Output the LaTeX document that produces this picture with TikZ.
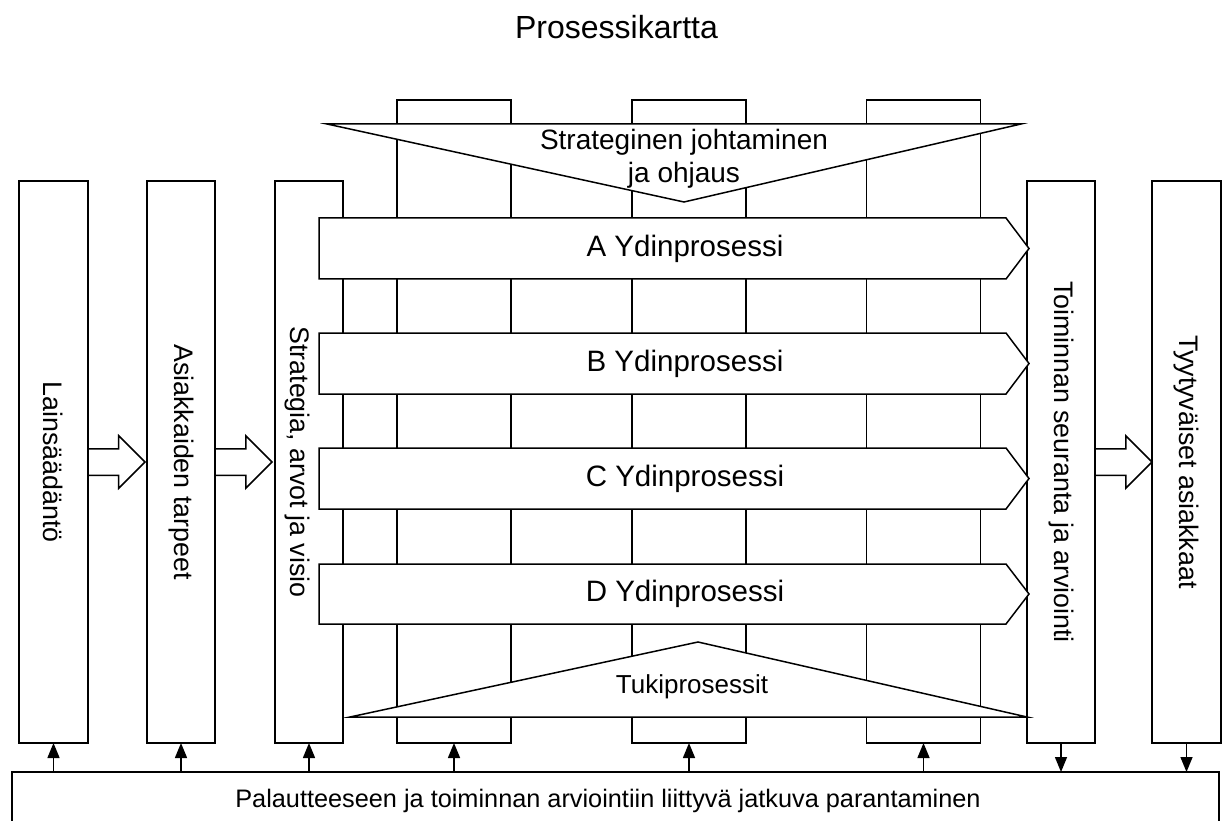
\documentclass[tikz,border=0pt]{standalone}
\usepackage{fontspec}
\setmainfont{Liberation Sans}
\usetikzlibrary{arrows.meta,shapes.arrows}
\tikzset{
  col/.style={draw,fill=white,outer sep=0pt,inner sep=0pt},
  proc/.style={draw,fill=white},
  txt/.style={font=\fontsize{26}{32}\selectfont,inner sep=0pt,align=center},
  ptxt/.style={txt,font=\fontsize{29.5}{34}\selectfont},
  vtxt/.style={txt,font=\fontsize{26.8}{32}\selectfont,rotate=-90},
  fat/.style={single arrow,draw,fill=white,single arrow head extend=13pt,
    inner xsep=0pt,inner ysep=12.5pt,minimum height=57pt,anchor=tail,outer sep=0pt},
  fb/.style={-{Triangle[width=12pt,length=15pt]}}
}
\begin{document}
\begin{tikzpicture}[x=1pt,y=-1pt,line width=1.5pt]
  \useasboundingbox (0,0) rectangle (1227,821);
  \node[txt,font=\fontsize{32}{38}\selectfont] (title) at (616.5,27.5) {Prosessikartta};

  % taustapalkit
  \node[col,minimum width=114pt,minimum height=643pt] (bg1) at (454,421.5) {};
  \node[col,minimum width=114pt,minimum height=643pt] (bg2) at (689,421.5) {};
  \node[col,minimum width=114pt,minimum height=643pt] (bg3) at (923.5,421.5) {};

  % pystypalkit
  \node[col,minimum width=69pt,minimum height=562pt] (law) at (53.5,462) {};
  \node[vtxt] (lawtxt) at (law) {Lainsäädäntö};
  \node[col,minimum width=68pt,minimum height=562pt] (needs) at (181,462) {};
  \node[vtxt] (needstxt) at (needs) {Asiakkaiden tarpeet};
  \node[col,minimum width=68pt,minimum height=562pt] (strat) at (309,462) {};
  \node[vtxt] (strattxt) at (297,462) {Strategia, arvot ja visio};
  \node[col,minimum width=68pt,minimum height=562pt] (eval) at (1061,462) {};
  \node[vtxt] (evaltxt) at (eval) {Toiminnan seuranta ja arviointi};
  \node[col,minimum width=69pt,minimum height=562pt] (happy) at (1186.5,462) {};
  \node[vtxt] (happytxt) at (happy) {Tyytyväiset asiakkaat};

  % ydinprosessit
  \draw[proc] (319,218) -- (1006,218) -- (1029,248.5) -- (1006,279) -- (319,279) -- cycle;
  \node[ptxt] (pa) at (685,248.5) {A Ydinprosessi};
  \draw[proc] (319,333) -- (1006,333) -- (1029,363.5) -- (1006,394) -- (319,394) -- cycle;
  \node[ptxt] (pb) at (685,363.5) {B Ydinprosessi};
  \draw[proc] (319,448) -- (1006,448) -- (1029,478.5) -- (1006,509) -- (319,509) -- cycle;
  \node[ptxt] (pc) at (685,478.5) {C Ydinprosessi};
  \draw[proc] (319,564) -- (1006,564) -- (1029,594) -- (1006,624) -- (319,624) -- cycle;
  \node[ptxt] (pd) at (685,594) {D Ydinprosessi};

  % johtaminen ja tuki
  \draw[proc] (327,124) -- (1021,124) -- (684,202) -- cycle;
  \node[txt,font=\fontsize{28}{33}\selectfont] (lead) at (684,159) {Strateginen johtaminen\\ja ohjaus};
  \draw[proc] (350,717) -- (1027,717) -- (698,642) -- cycle;
  \node[txt] (support) at (692,687) {Tukiprosessit};

  % jatkuva parantaminen
  \node[col,minimum width=1207pt,minimum height=80pt,anchor=north west] (impr) at (12,772) {};
  \node[txt,font=\fontsize{25.3}{30}\selectfont] (imprtxt) at (608,801) {Palautteeseen ja toiminnan arviointiin liittyvä jatkuva parantaminen};

  % isot nuolet
  \node[fat] (fa1) at (law.east) {};
  \node[fat] (fa2) at (needs.east) {};
  \node[fat] (fa3) at (eval.east) {};

  % palautenuolet
  \draw[fb] (impr.north -| law.south) -- (law.south);
  \draw[fb] (impr.north -| needs.south) -- (needs.south);
  \draw[fb] (impr.north -| strat.south) -- (strat.south);
  \draw[fb] (impr.north -| bg1.south) -- (bg1.south);
  \draw[fb] (impr.north -| bg2.south) -- (bg2.south);
  \draw[fb] (impr.north -| bg3.south) -- (bg3.south);
  \draw[fb] (eval.south) -- (eval.south |- impr.north);
  \draw[fb] (happy.south) -- (happy.south |- impr.north);
\end{tikzpicture}
\end{document}
